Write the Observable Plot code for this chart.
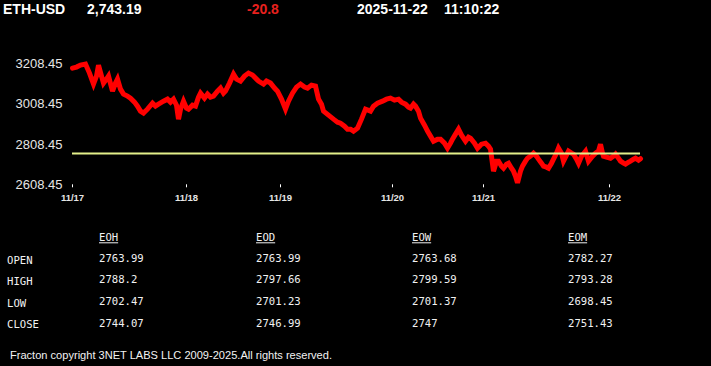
<!DOCTYPE html>
<html><head><meta charset="utf-8">
<script src="https://cdn.jsdelivr.net/npm/d3@7"></script>
<script src="https://cdn.jsdelivr.net/npm/@observablehq/plot@0.6"></script>
<style>
html,body{margin:0;padding:0;background:#000;}
#wrap{position:relative;width:711px;height:366px;overflow:hidden;background:#000;}
#chart{position:absolute;left:0;top:40px;}
#overlay{position:absolute;left:0;top:0;}
</style></head><body><div id="wrap"><div id="chart"></div></div>
<script>
const symbol = "ETH-USD", lastPrice = "2,743.19", change = "-20.8", dateStr = "2025-11-22", timeStr = "11:10:22";

const sampleIdx = [0,4,8,13,17,21,24,26,29,31,34,36,40,43,45,48,51,55,58,62,65,68,71,75,80,83,86,91,95,98,101,104,106,108,111,114,116,120,123,126,128,132,135,138,141,145,148,151,153,157,161,164,168,172,176,180,186,191,194,198,202,205,209,213,216,220,224,228,232,235,239,243,246,249,251,256,261,265,268,272,275,278,281,285,289,293,298,301,305,310,314,318,322,326,329,333,336,338,341,343,346,348,352,355,358,361,365,368,372,375,378,380,383,386,389,393,396,398,402,405,409,413,416,418,421,424,426,429,431,434,436,439,441,443,445,448,450,453,455,458,461,464,466,469,471,474,476,479,481,484,486,489,491,494,496,499,501,504,506,509,513,516,520,523,526,528,530,531,534,538,541,543,546,548,551,553,556,558,561,563,566,568];
const price = [3187.1,3192.1,3202.0,3207.0,3162.3,3107.7,3147.4,3202.0,3147.4,3112.7,3132.5,3147.4,3073.0,3112.7,3132.5,3082.9,3058.1,3048.1,3038.2,3018.4,2998.5,2973.7,2963.8,2983.6,3013.4,2998.5,3008.4,3023.3,3033.2,3018.4,3033.2,3003.5,2934.0,2983.6,3023.3,2988.6,2983.6,3003.5,2998.5,3043.2,3063.0,3038.2,3058.1,3043.2,3048.1,3073.0,3087.8,3063.0,3073.0,3112.7,3157.3,3132.5,3122.6,3147.4,3162.3,3152.4,3122.6,3107.7,3122.6,3112.7,3087.8,3073.0,3033.2,2983.6,3023.3,3063.0,3092.8,3107.7,3092.8,3087.8,3102.7,3097.8,3033.2,3008.4,2973.7,2953.9,2934.0,2919.1,2914.2,2899.3,2884.4,2884.4,2874.5,2889.3,2934.0,2983.6,2973.7,2998.5,3013.4,3023.3,3033.2,3038.2,3028.3,3033.2,3018.4,3008.4,2993.6,2988.6,3008.4,2998.5,2973.7,2939.0,2904.2,2874.5,2849.7,2824.8,2834.8,2834.8,2814.9,2790.1,2814.9,2834.8,2859.6,2884.4,2854.6,2824.8,2844.7,2839.7,2814.9,2790.1,2809.9,2814.9,2800.0,2785.1,2675.9,2725.6,2725.6,2700.8,2690.8,2710.7,2715.6,2690.8,2675.9,2651.1,2618.0,2675.9,2700.8,2725.6,2740.4,2750.4,2765.3,2750.4,2735.5,2715.6,2700.8,2695.8,2690.8,2715.6,2735.5,2765.3,2790.1,2765.3,2725.6,2755.3,2775.2,2765.3,2760.3,2735.5,2715.6,2750.4,2775.2,2725.6,2750.4,2765.3,2775.2,2809.9,2765.3,2750.4,2745.4,2740.4,2750.4,2760.3,2740.4,2725.6,2715.6,2710.7,2720.6,2725.6,2735.5,2740.4,2730.5,2738.0];

const xTickIdx = [0,114,208,320,411,537];
const xTickLabels = ["11/17","11/18","11/19","11/20","11/21","11/22"];
const yTicks = [2608.45,2808.45,3008.45,3208.45];
const refLevel = 2763.99;

const tableCols = ["EOH","EOD","EOW","EOM"];
const rowLabels = ["OPEN","HIGH","LOW","CLOSE"];
const eohVals = ["2763.99","2788.2","2702.47","2744.07"];
const eodVals = ["2763.99","2797.66","2701.23","2746.99"];
const eowVals = ["2763.68","2799.59","2701.37","2747"];
const eomVals = ["2782.27","2793.28","2698.45","2751.43"];
const footerText = "Fracton copyright 3NET LABS LLC 2009-2025.All rights reserved.";

const data = sampleIdx.map((i, k) => ({i, p: price[k]}));

const plot = Plot.plot({
  width: 711, height: 170,
  marginLeft: 72, marginRight: 71, marginTop: 23.3, marginBottom: 25.7,
  style: {background: "#000", color: "#e0e0e0", fontFamily: "'Liberation Sans', Arial, sans-serif", overflow: "visible"},
  x: {domain: [0, 568]},
  y: {domain: [2608.45, 3208.45]},
  marks: [
    Plot.axisY({ticks: yTicks, tickFormat: d => d.toFixed(2), tickSize: 0, tickPadding: 10, fontSize: 13, fill: "#e6e6e6", label: null}),
    Plot.axisX({ticks: xTickIdx, tickFormat: d => xTickLabels[xTickIdx.indexOf(d)], tickSize: 3, tickPadding: 6, fontSize: 9.5, fontWeight: "bold", stroke: "#fff", fill: "#e6e6e6", label: null}),
    Plot.line(data, {x: "i", y: "p", stroke: "#ff0000", strokeWidth: 5, strokeLinejoin: "miter", strokeMiterlimit: 3}),
    Plot.ruleY([refLevel], {stroke: "#e3ef8a", strokeWidth: 2})
  ]
});
document.getElementById("chart").appendChild(plot);

// Overlay text: header, table, footer
const svg = d3.select("#wrap").append("svg").attr("id", "overlay").attr("width", 711).attr("height", 366);
const hdr = [
  {t: symbol, x: 3, fill: "#fff"},
  {t: lastPrice, x: 87, fill: "#fff"},
  {t: change, x: 247, fill: "#e8201e"},
  {t: dateStr, x: 357, fill: "#fff"},
  {t: timeStr, x: 444, fill: "#fff"}
];
svg.selectAll("text.h").data(hdr).join("text").attr("class", "h")
  .attr("x", d => d.x).attr("y", 14)
  .attr("fill", d => d.fill)
  .style("font", "bold 14px 'Liberation Sans', Arial, sans-serif")
  .text(d => d.t);

const mono = "10.6px 'DejaVu Sans Mono', monospace";
const colX = [99, 256, 412, 568];
const cols = [eohVals, eodVals, eowVals, eomVals];
tableCols.forEach((c, j) => {
  const t = svg.append("text").attr("x", colX[j]).attr("y", 241).attr("fill", "#f2f2f2").style("font", mono).text(c);
  const w = t.node().getComputedTextLength();
  svg.append("line").attr("x1", colX[j]).attr("x2", colX[j] + w).attr("y1", 242.8).attr("y2", 242.8)
    .attr("stroke", "#f2f2f2").attr("stroke-width", 1);
});
const labelBase = [264, 285, 307, 328];
const valBase = [262, 283, 305, 327];
rowLabels.forEach((r, i) => {
  svg.append("text").attr("x", 7).attr("y", labelBase[i]).attr("fill", "#f2f2f2").style("font", mono).text(r);
  cols.forEach((vals, j) => {
    svg.append("text").attr("x", colX[j]).attr("y", valBase[i]).attr("fill", "#f2f2f2").style("font", mono).text(vals[i]);
  });
});
svg.append("text").attr("x", 10).attr("y", 359).attr("fill", "#f2f2f2")
  .style("font", "10.5px 'Liberation Sans', Arial, sans-serif")
  .attr("textLength", 322).attr("lengthAdjust", "spacingAndGlyphs")
  .text(footerText);
</script></body></html>
